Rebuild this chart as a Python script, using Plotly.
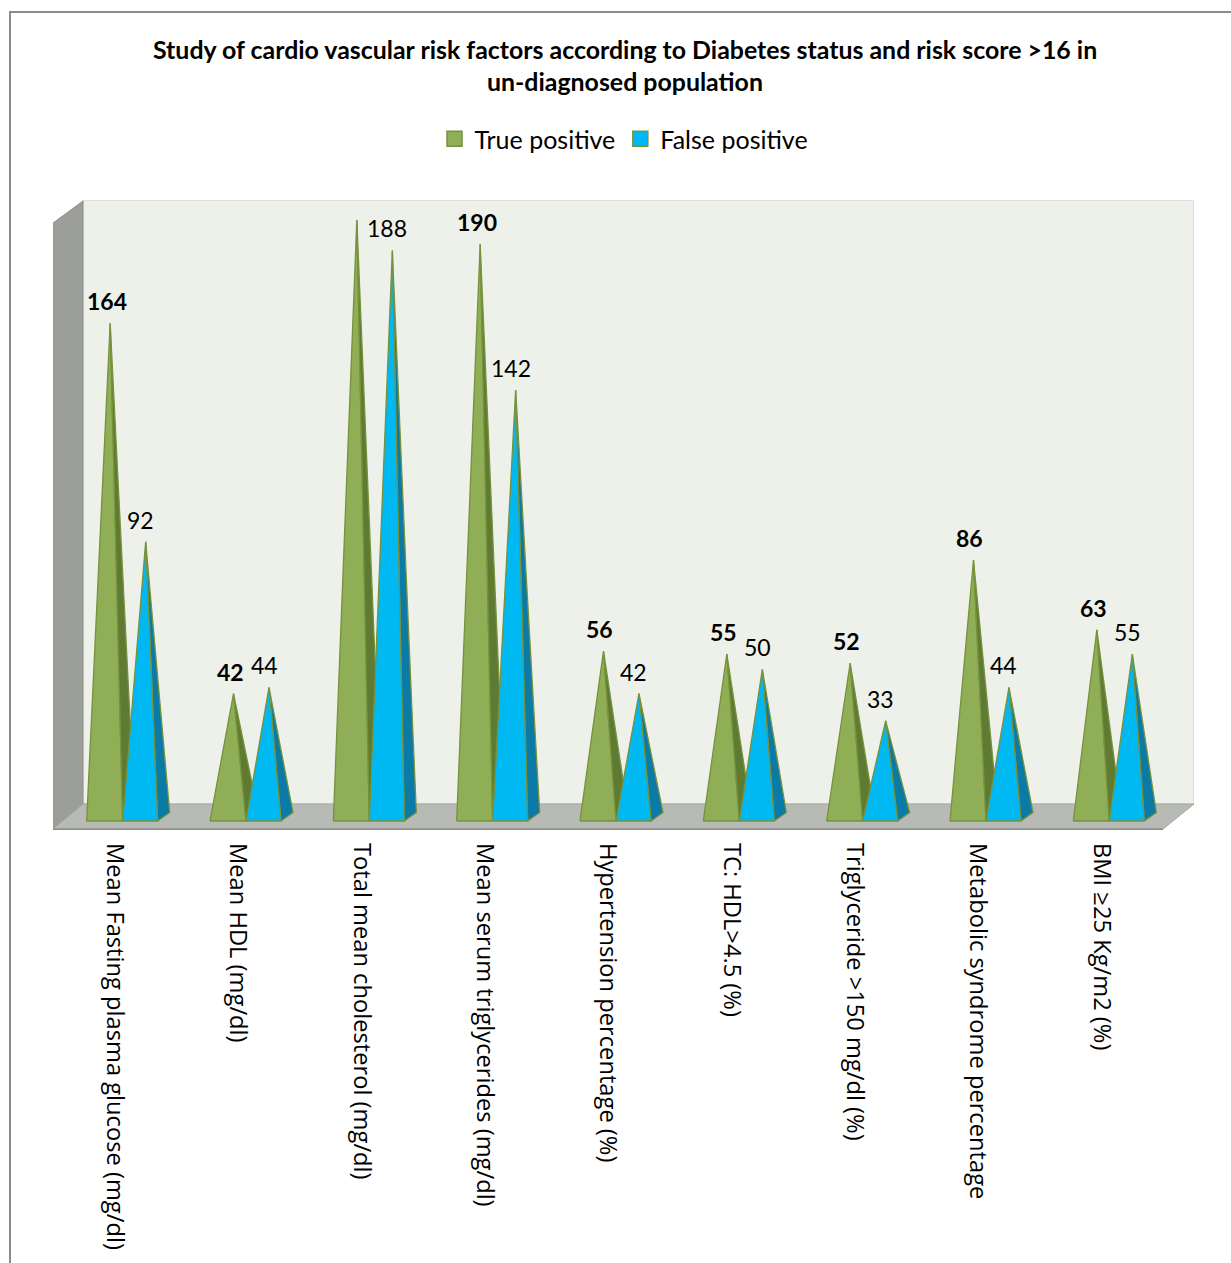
import plotly.graph_objects as go

categories = [
    "Mean Fasting plasma glucose (mg/dl)",
    "Mean HDL (mg/dl)",
    "Total mean cholesterol (mg/dl)",
    "Mean serum triglycerides (mg/dl)",
    "Hypertension percentage (%)",
    "TC: HDL>4.5 (%)",
    "Triglyceride >150 mg/dl (%)",
    "Metabolic syndrome percentage",
    "BMI \u226525 Kg/m2 (%)",
]
true_positive = [164, 42, 198, 190, 56, 55, 52, 86, 63]
false_positive = [92, 44, 188, 142, 42, 50, 33, 44, 55]
series_names = ["True positive", "False positive"]

# ---- geometry (pixel-based helpers) ----
W, H = 1231, 1263
L_PX, R_PX, T_PX, B_PX = 53, 1194, 200, 830
CATW = 123.33          # px per category
ZERO_PX = 821          # pixel row of value 0
SCALE = 3.035          # px per value unit
DEPTH_X, DEPTH_Y = 30, 25  # floor depth offset (px)

def dx(p):
    return p / CATW

def dy(p):
    return p / SCALE

x_range = [-0.5, -0.5 + (R_PX - L_PX) / CATW]
y_range = [(ZERO_PX - B_PX) / SCALE, (ZERO_PX - T_PX) / SCALE]

GREEN = "#8FAE55"
GREEN_DARK = "#5F7A32"
BLUE = "#00B8F2"
BLUE_DARK = "#0A7AA6"
OUTLINE = "#76923C"

fig = go.Figure()

def tri(xs, ys, fill):
    fig.add_trace(go.Scatter(
        x=xs + [xs[0]], y=ys + [ys[0]], mode="lines", fill="toself",
        fillcolor=fill, line=dict(color=OUTLINE, width=1.3),
        hoverinfo="skip", showlegend=False))

for i, (tp, fp) in enumerate(zip(true_positive, false_positive)):
    # green pyramid
    g_apex = i + dx(-4.5)
    tri([i + dx(-28), i + dx(8), g_apex], [0, 0, tp], GREEN)
    tri([g_apex, i + dx(8), i + dx(20)], [tp, 0, dy(8.5)], GREEN_DARK)
    # blue pyramid
    b_apex = i + dx(31)
    tri([b_apex, i + dx(43), i + dx(55)], [fp, 0, dy(8.5)], BLUE_DARK)
    tri([i + dx(8), i + dx(43), b_apex], [0, 0, fp], BLUE)

# legend entries
for name, col in zip(series_names, [GREEN, BLUE]):
    fig.add_trace(go.Scatter(
        x=[None], y=[None], mode="markers", name=name,
        marker=dict(symbol="square", size=15, color=col,
                    line=dict(color=OUTLINE, width=1.5))))

annotations = []
for i, (tp, fp) in enumerate(zip(true_positive, false_positive)):
    annotations.append(dict(
        x=i + dx(-8), y=tp + dy(22), text="<b>%d</b>" % tp, showarrow=False,
        xanchor="center", yanchor="middle",
        font=dict(family="Lato", size=23, color="black")))
    annotations.append(dict(
        x=i + dx(26), y=fp + dy(22), text="%d" % fp, showarrow=False,
        xanchor="center", yanchor="middle",
        font=dict(family="Lato", size=23, color="black")))

# title lines
annotations.append(dict(
    xref="paper", yref="paper", x=(625 - L_PX) / (R_PX - L_PX),
    y=(B_PX - 49) / (B_PX - T_PX), xanchor="center", yanchor="middle",
    text="<b>Study of cardio vascular risk factors according to Diabetes status and risk score >16 in</b>",
    showarrow=False, font=dict(family="Lato", size=24.9, color="black")))
annotations.append(dict(
    xref="paper", yref="paper", x=(625 - L_PX) / (R_PX - L_PX),
    y=(B_PX - 81) / (B_PX - T_PX), xanchor="center", yanchor="middle",
    text="<b>un-diagnosed population</b>",
    showarrow=False, font=dict(family="Lato", size=24.9, color="black")))

# background walls / floor
x_back = -0.5 + dx(DEPTH_X)
y_floor_front = (ZERO_PX - 829) / SCALE
y_floor_back = (ZERO_PX - 804) / SCALE
y_wall_front_top = (ZERO_PX - 223) / SCALE
y_top = y_range[1]
x_front_right = 8.5

shapes = [
    dict(type="rect", xref="x", yref="y", x0=x_back, x1=x_range[1],
         y0=y_floor_back, y1=y_top, fillcolor="#EEF1EA",
         line=dict(color="#D8DAD5", width=1.5), layer="below"),
    dict(type="path", xref="x", yref="y",
         path="M %f,%f L %f,%f L %f,%f L %f,%f Z" % (
             -0.5, y_wall_front_top, x_back, y_top - dy(1),
             x_back, y_floor_back, -0.5, y_floor_front),
         fillcolor="#9C9E99", line=dict(color="#8F918C", width=1), layer="below"),
    dict(type="path", xref="x", yref="y",
         path="M %f,%f L %f,%f L %f,%f L %f,%f Z" % (
             -0.5, y_floor_front, x_front_right, y_floor_front,
             x_range[1], y_floor_back, x_back, y_floor_back),
         fillcolor="#B8BAB5", line=dict(color="#A4A6A1", width=1), layer="below"),
    dict(type="line", xref="x", yref="y", x0=-0.5, x1=x_front_right,
         y0=y_floor_front - dy(1), y1=y_floor_front - dy(1),
         line=dict(color="#8A8C88", width=3), layer="below"),
    # outer border of the chart area
    dict(type="rect", xref="paper", yref="paper",
         x0=(10 - L_PX) / (R_PX - L_PX), x1=1.2,
         y0=-1.0, y1=(B_PX - 12) / (B_PX - T_PX),
         line=dict(color="#8C8C8C", width=2), fillcolor="rgba(0,0,0,0)"),
]

fig.update_layout(
    width=W, height=H,
    margin=dict(l=L_PX, r=W - R_PX, t=T_PX, b=H - B_PX, pad=0),
    paper_bgcolor="white", plot_bgcolor="rgba(0,0,0,0)",
    shapes=shapes, annotations=annotations,
    showlegend=True,
    legend=dict(orientation="h", x=(624 - L_PX) / (R_PX - L_PX), xanchor="center",
                y=(B_PX - 139) / (B_PX - T_PX), yanchor="middle",
                font=dict(family="Lato", size=25, color="black"),
                bgcolor="rgba(0,0,0,0)", itemwidth=30, tracegroupgap=0),
    xaxis=dict(range=x_range, tickmode="array", tickvals=list(range(len(categories))),
               ticktext=categories, tickangle=90, showgrid=False, zeroline=False,
               showline=False, ticks="", fixedrange=True, ticklabelstandoff=12,
               tickfont=dict(family="Open Sans", size=23.7, color="black")),
    yaxis=dict(range=y_range, visible=False, showgrid=False, zeroline=False,
               fixedrange=True),
)

fig.write_html("out.html")
